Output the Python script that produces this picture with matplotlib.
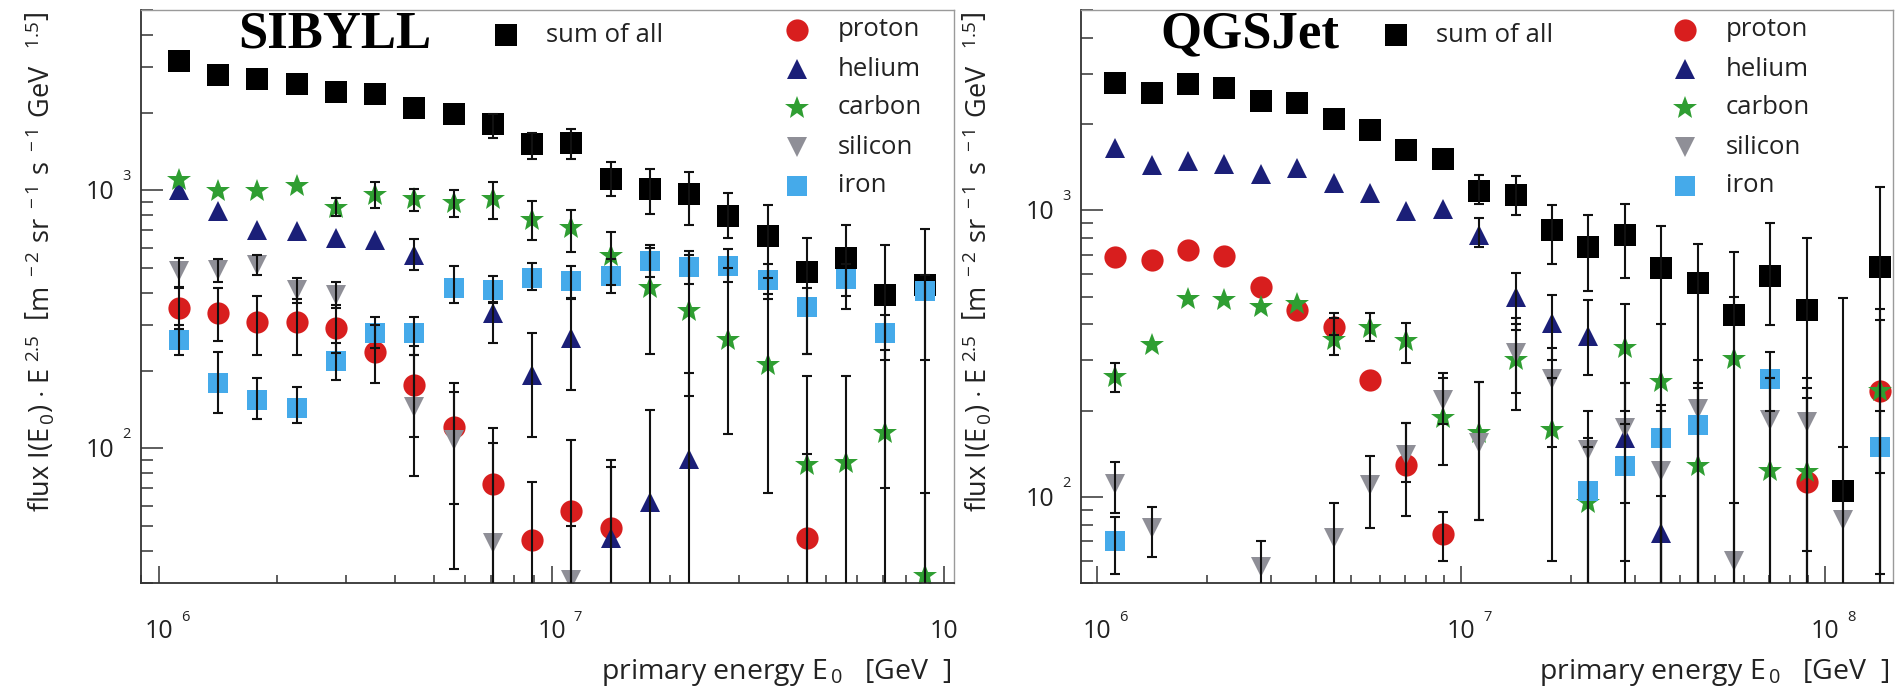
import numpy as np
import matplotlib

matplotlib.use("Agg")
import matplotlib.pyplot as plt
from matplotlib.lines import Line2D
from matplotlib.transforms import blended_transform_factory, offset_copy

W, H = 1895, 693
nan = np.nan

plt.rcParams["font.family"] = ["Open Sans", "DejaVu Sans"]
plt.rcParams["mathtext.fontset"] = "custom"
plt.rcParams["mathtext.rm"] = "Open Sans"
plt.rcParams["mathtext.it"] = "Open Sans"

# bin centres, log10(E0 / GeV)
LOG_E = [6.05, 6.15, 6.25, 6.35, 6.45, 6.55, 6.65, 6.75, 6.85, 6.95, 7.05,
         7.15, 7.25, 7.35, 7.45, 7.55, 7.65, 7.75, 7.85, 7.95, 8.05, 8.15]

# ---- SIBYLL (20 bins) ----
SIB_SUM = [3180, 2810, 2690, 2590, 2400, 2370, 2090, 1970, 1800, 1510, 1520,
           1110, 1010, 965, 794, 665, 484, 546, 393, 430]
SIB_SUM_HI = [3300, 2920, 2790, 2690, 2490, 2460, 2170, 2060, 1970, 1670, 1730,
              1285, 1210, 1180, 980, 877, 652, 733, 614, 711]
SIB_SUM_LO = [3060, 2700, 2590, 2490, 2310, 2280, 2010, 1880, 1600, 1325, 1325,
              950, 810, 733, 652, 458, 233, 347, 1, 1]

SIB_P = [349, 334, 308, 308, 292, 237, 176, 121, 73, 44, 57, 49,
         nan, nan, nan, nan, 45, nan, nan, nan]
SIB_P_HI = [420, 418, 388, 380, 360, 300, 250, 179, 120, 74, 108, 90,
            nan, nan, nan, nan, 95, nan, nan, nan]
SIB_P_LO = [290, 260, 230, 230, 235, 179, 111, 61, 1, 1, 1, 1,
            nan, nan, nan, nan, 1, nan, nan, nan]

SIB_HE = [1006, 829, 703, 698, 653, 640, 563, nan, 334, 193, 267, 45, 62, 91,
          nan, nan, nan, nan, nan, nan]
SIB_HE_HI = [1040, 860, 730, 725, 680, 670, 647, nan, 366, 280, 383, 85, 141, 196,
             nan, nan, nan, nan, nan, nan]
SIB_HE_LO = [970, 800, 680, 670, 630, 610, 492, nan, 256, 111, 168, 1, 1, 1,
             nan, nan, nan, nan, nan, nan]

SIB_C = [1100, 991, 996, 1036, 855, 962, 926, 893, 926, 769, 714, 556, 420, 340,
         262, 211, 86, 88, 115, 32]
SIB_C_HI = [1140, 1030, 1035, 1075, 934, 1074, 1012, 1000, 1074, 906, 841, 690,
            615, 560, 500, 398, 191, 191, 240, 67]
SIB_C_LO = [1060, 955, 960, 1000, 793, 855, 829, 788, 774, 640, 579, 430, 233,
            160, 114, 67, 1, 1, 70, 1]

SIB_SI = [486, 492, 515, 412, 394, nan, 145, 108, 43, nan, 31,
          nan, nan, nan, nan, nan, nan, nan, nan, nan]
SIB_SI_HI = [547, 540, 560, 458, 440, nan, 230, 165, 105, nan, 50,
             nan, nan, nan, nan, nan, nan, nan, nan, nan]
SIB_SI_LO = [424, 440, 470, 365, 350, nan, 78, 34, 1, nan, 1,
             nan, nan, nan, nan, nan, nan, nan, nan, nan]

SIB_FE = [263, 179, 154, 143, 219, 279, 279, 418, 412, 457, 444, 466, 531, 505,
          511, 448, 353, 453, 279, 406]
SIB_FE_HI = [300, 237, 187, 173, 256, 324, 324, 507, 467, 523, 507, 540, 600,
             580, 590, 520, 420, 520, 330, 470]
SIB_FE_LO = [230, 137, 130, 125, 184, 245, 230, 366, 370, 412, 380, 400, 460,
             435, 440, 380, 233, 390, 220, 220]

# ---- QGSJet (22 bins) ----
QGS_SUM = [2786, 2570, 2754, 2682, 2406, 2375, 2075, 1914, 1630, 1514, 1165,
           1135, 851, 748, 822, 627, 556, 433, 590, 449, 105, 634]
QGS_SUM_HI = [2880, 2660, 2850, 2775, 2490, 2460, 2150, 1985, 1700, 1580, 1333,
              1315, 1040, 960, 1055, 883, 765, 713, 906, 798, 494, 1202]
QGS_SUM_LO = [2690, 2480, 2660, 2590, 2320, 2290, 2000, 1845, 1560, 1450, 1055,
              966, 648, 523, 582, 1, 1, 1, 399, 1, 1, 1]

QGS_P = [690, 673, 729, 695, 542, 450, 393, 255, 129, 74.5,
         nan, nan, nan, nan, nan, nan, nan, nan, nan, 113, nan, 234]
QGS_P_HI = [710, 693, 750, 715, 560, 475, 420, 270, 181, 89,
            nan, nan, nan, nan, nan, nan, nan, nan, nan, 222, nan, 414]
QGS_P_LO = [670, 653, 708, 675, 524, 425, 366, 240, 86, 60,
            nan, nan, nan, nan, nan, nan, nan, nan, nan, 65, nan, 121]

QGS_HE = [1652, 1445, 1484, 1456, 1334, 1407, 1247, 1150, 993, 1011, 822, 498,
          406, 365, 160, 75, nan, nan, nan, nan, nan, nan]
QGS_HE_HI = [1700, 1490, 1530, 1500, 1375, 1450, 1285, 1185, 1025, 1043, 940,
             607, 507, 488, 250, 101, nan, nan, nan, nan, nan, nan]
QGS_HE_LO = [1605, 1400, 1440, 1412, 1295, 1365, 1210, 1115, 962, 980, 748, 383,
             300, 266, 95, 1, nan, nan, nan, nan, nan, nan]

QGS_C = [263, 339, 490, 487, 460, 470, 353, 388, 350, 188, 167, 301, 171, 95,
         330, 251, 128, 303, 123, 122, nan, 234]
QGS_C_HI = [293, 355, 505, 500, 475, 485, 439, 439, 405, 260, 252, 420, 260, 160,
            470, 400, 250, 500, 260, 240, nan, 453]
QGS_C_LO = [233, 323, 475, 474, 445, 455, 313, 349, 293, 129, 83, 201, 60, 1,
            200, 1, 1, 1, 1, 1, nan, 54]

QGS_SI = [111, 78, nan, nan, 57, nan, 72, 110, 140, 218, 154, 317, 258, 146,
          174, 123, 203, 60, 186, 182, 83, nan]
QGS_SI_HI = [132, 92, nan, nan, 70, nan, 95, 139, 181, 270, 252, 400, 330, 200,
             250, 200, 300, 95, 260, 260, 150, nan]
QGS_SI_LO = [88, 62, nan, nan, 1, nan, 1, 78, 113, 180, 83, 231, 150, 1,
             1, 1, 1, 1, 1, 1, 1, nan]

QGS_FE = [70, nan, nan, nan, nan, nan, nan, nan, nan, nan, nan, nan, nan, 105,
          128, 160, 178, nan, 258, nan, nan, 150]
QGS_FE_HI = [85, nan, nan, nan, nan, nan, nan, nan, nan, nan, nan, nan, nan, 150,
             180, 210, 240, nan, 320, nan, nan, 200]
QGS_FE_LO = [54, nan, nan, nan, nan, nan, nan, nan, nan, nan, nan, nan, nan, 1,
             60, 1, 1, nan, 200, nan, nan, 1]

NAMES = ["sum of all", "proton", "helium", "carbon", "silicon", "iron"]
STYLE = {
    "sum of all": dict(marker="s", color="black", ms=15.5),
    "proton": dict(marker="o", color="#d81e1e", ms=16),
    "helium": dict(marker="^", color="#1b1f78", ms=15),
    "carbon": dict(marker="*", color="#2f9e32", ms=18),
    "silicon": dict(marker="v", color="#8f8f97", ms=15),
    "iron": dict(marker="s", color="#45aaea", ms=14.5),
}

SIB = [(SIB_SUM, SIB_SUM_LO, SIB_SUM_HI), (SIB_P, SIB_P_LO, SIB_P_HI),
       (SIB_HE, SIB_HE_LO, SIB_HE_HI), (SIB_C, SIB_C_LO, SIB_C_HI),
       (SIB_SI, SIB_SI_LO, SIB_SI_HI), (SIB_FE, SIB_FE_LO, SIB_FE_HI)]
QGS = [(QGS_SUM, QGS_SUM_LO, QGS_SUM_HI), (QGS_P, QGS_P_LO, QGS_P_HI),
       (QGS_HE, QGS_HE_LO, QGS_HE_HI), (QGS_C, QGS_C_LO, QGS_C_HI),
       (QGS_SI, QGS_SI_LO, QGS_SI_HI), (QGS_FE, QGS_FE_LO, QGS_FE_HI)]

YLABEL = (r"flux I(E$_{\,0}$) $\cdot$ E$^{\ 2.5}$  "
          r"$\left[\mathrm{m}^{\ -2}\ \mathrm{sr}^{\ -1}\ \mathrm{s}^{\ -1}\ \mathrm{GeV}^{\quad 1.5}\right]$")
XLABEL = r"primary energy E$_{\,0}$   [GeV  ]"
TXT = "#222222"


def fx(px):
    return px / W


def fy(py):
    return 1 - py / H


fig = plt.figure(figsize=(W / 100, H / 100), dpi=100)


def panel(x0, x1, xlim, ylim, data, title, title_x, leg_x, col_x, ylab_x,
          xlab_right, xticks, yticks):
    ax = fig.add_axes([fx(x0), fy(583.3), fx(x1 - x0), fy(10) - fy(583.3)])
    ax.set_xscale("log")
    ax.set_yscale("log")
    ax.set_xlim(*xlim)
    ax.set_ylim(*ylim)
    n = len(data[0][0])
    e = 10 ** np.array(LOG_E[:n])
    for name, (v, lo, hi) in zip(NAMES, data):
        v, lo, hi = np.array(v, float), np.array(lo, float), np.array(hi, float)
        st = STYLE[name]
        ax.plot(e, v, ls="none", marker=st["marker"], color=st["color"],
                ms=st["ms"], mew=0, zorder=2)
        # bars that stay inside the marker are not visible in the original
        big = ((hi / v) > 1.06) | ((lo / v) < 0.94)
        ax.errorbar(e[big], v[big], yerr=[v[big] - lo[big], hi[big] - v[big]],
                    fmt="none", ecolor="#111111", elinewidth=1.5, capsize=3.5,
                    capthick=1.5, zorder=3)

    for s in ("left", "bottom"):
        ax.spines[s].set_color("#333333")
        ax.spines[s].set_linewidth(1.3)
    for s in ("top", "right"):
        ax.spines[s].set_color("#9a9a9a")
        ax.spines[s].set_linewidth(1.0)
    ax.tick_params(which="both", direction="in", top=False, right=False,
                   labelbottom=False, labelleft=False, color="#333333", width=1.1)
    ax.tick_params(axis="y", which="major", length=16)
    ax.tick_params(axis="y", which="minor", length=8.5)
    ax.tick_params(axis="x", which="major", length=12.5)
    ax.tick_params(axis="x", which="minor", length=6)

    # tick labels drawn as "10" plus a detached exponent
    ty = blended_transform_factory(ax.transAxes, ax.transData)
    for p in yticks:
        ax.text(0, 10 ** p, "10", transform=offset_copy(ty, fig, x=-26, y=-2, units="dots"),
                ha="right", va="center", fontsize=18, color=TXT)
        ax.text(0, 10 ** p, str(p), transform=offset_copy(ty, fig, x=-18, y=14, units="dots"),
                ha="left", va="center", fontsize=10.5, color=TXT)
    tx = blended_transform_factory(ax.transData, ax.transAxes)
    for p, sup in xticks:
        ax.text(10 ** p, 0, "10", transform=offset_copy(tx, fig, x=0, y=-48, units="dots"),
                ha="center", va="center", fontsize=18, color=TXT, clip_on=False)
        if sup:
            ax.text(10 ** p, 0, str(p), transform=offset_copy(tx, fig, x=22, y=-34, units="dots"),
                    ha="left", va="center", fontsize=10.5, color=TXT)

    fig.text(fx(title_x), fy(34), title, ha="center", va="center",
             family="Liberation Serif", weight="bold", fontsize=38, color="black")

    # legend: "sum of all" on its own, elements in a column
    st = STYLE["sum of all"]
    fig.add_artist(Line2D([fx(leg_x)], [fy(35)], transform=fig.transFigure, ls="none",
                          marker=st["marker"], color=st["color"], ms=st["ms"], mew=0))
    fig.text(fx(leg_x + 40), fy(35), "sum of all", ha="left", va="center",
             fontsize=18.5, color=TXT)
    for i, name in enumerate(NAMES[1:]):
        st = STYLE[name]
        yy = 30 + 39 * i
        fig.add_artist(Line2D([fx(col_x)], [fy(yy)], transform=fig.transFigure, ls="none",
                              marker=st["marker"], color=st["color"], ms=st["ms"], mew=0))
        fig.text(fx(col_x + 41), fy(yy), name, ha="left", va="center",
                 fontsize=18.5, color=TXT)

    fig.text(fx(ylab_x), fy(262), YLABEL, rotation=90, ha="center", va="center",
             fontsize=19.5, color=TXT)
    fig.text(fx(xlab_right), fy(672), XLABEL, ha="right", va="center",
             fontsize=20.5, color=TXT)
    return ax


panel(140.7, 954, (10 ** 5.953, 10 ** 8.025), (30, 5000), SIB, "SIBYLL", 335, 506,
      797, 40, 952, [(6, True), (7, True), (8, False)], [2, 3])
panel(1080.7, 1893, (10 ** 5.955, 10 ** 8.187), (50, 5000), QGS, "QGSJet", 1250, 1396,
      1685, 977, 1890, [(6, True), (7, True), (8, True)], [2, 3])

fig.savefig("out.png", dpi=100)
